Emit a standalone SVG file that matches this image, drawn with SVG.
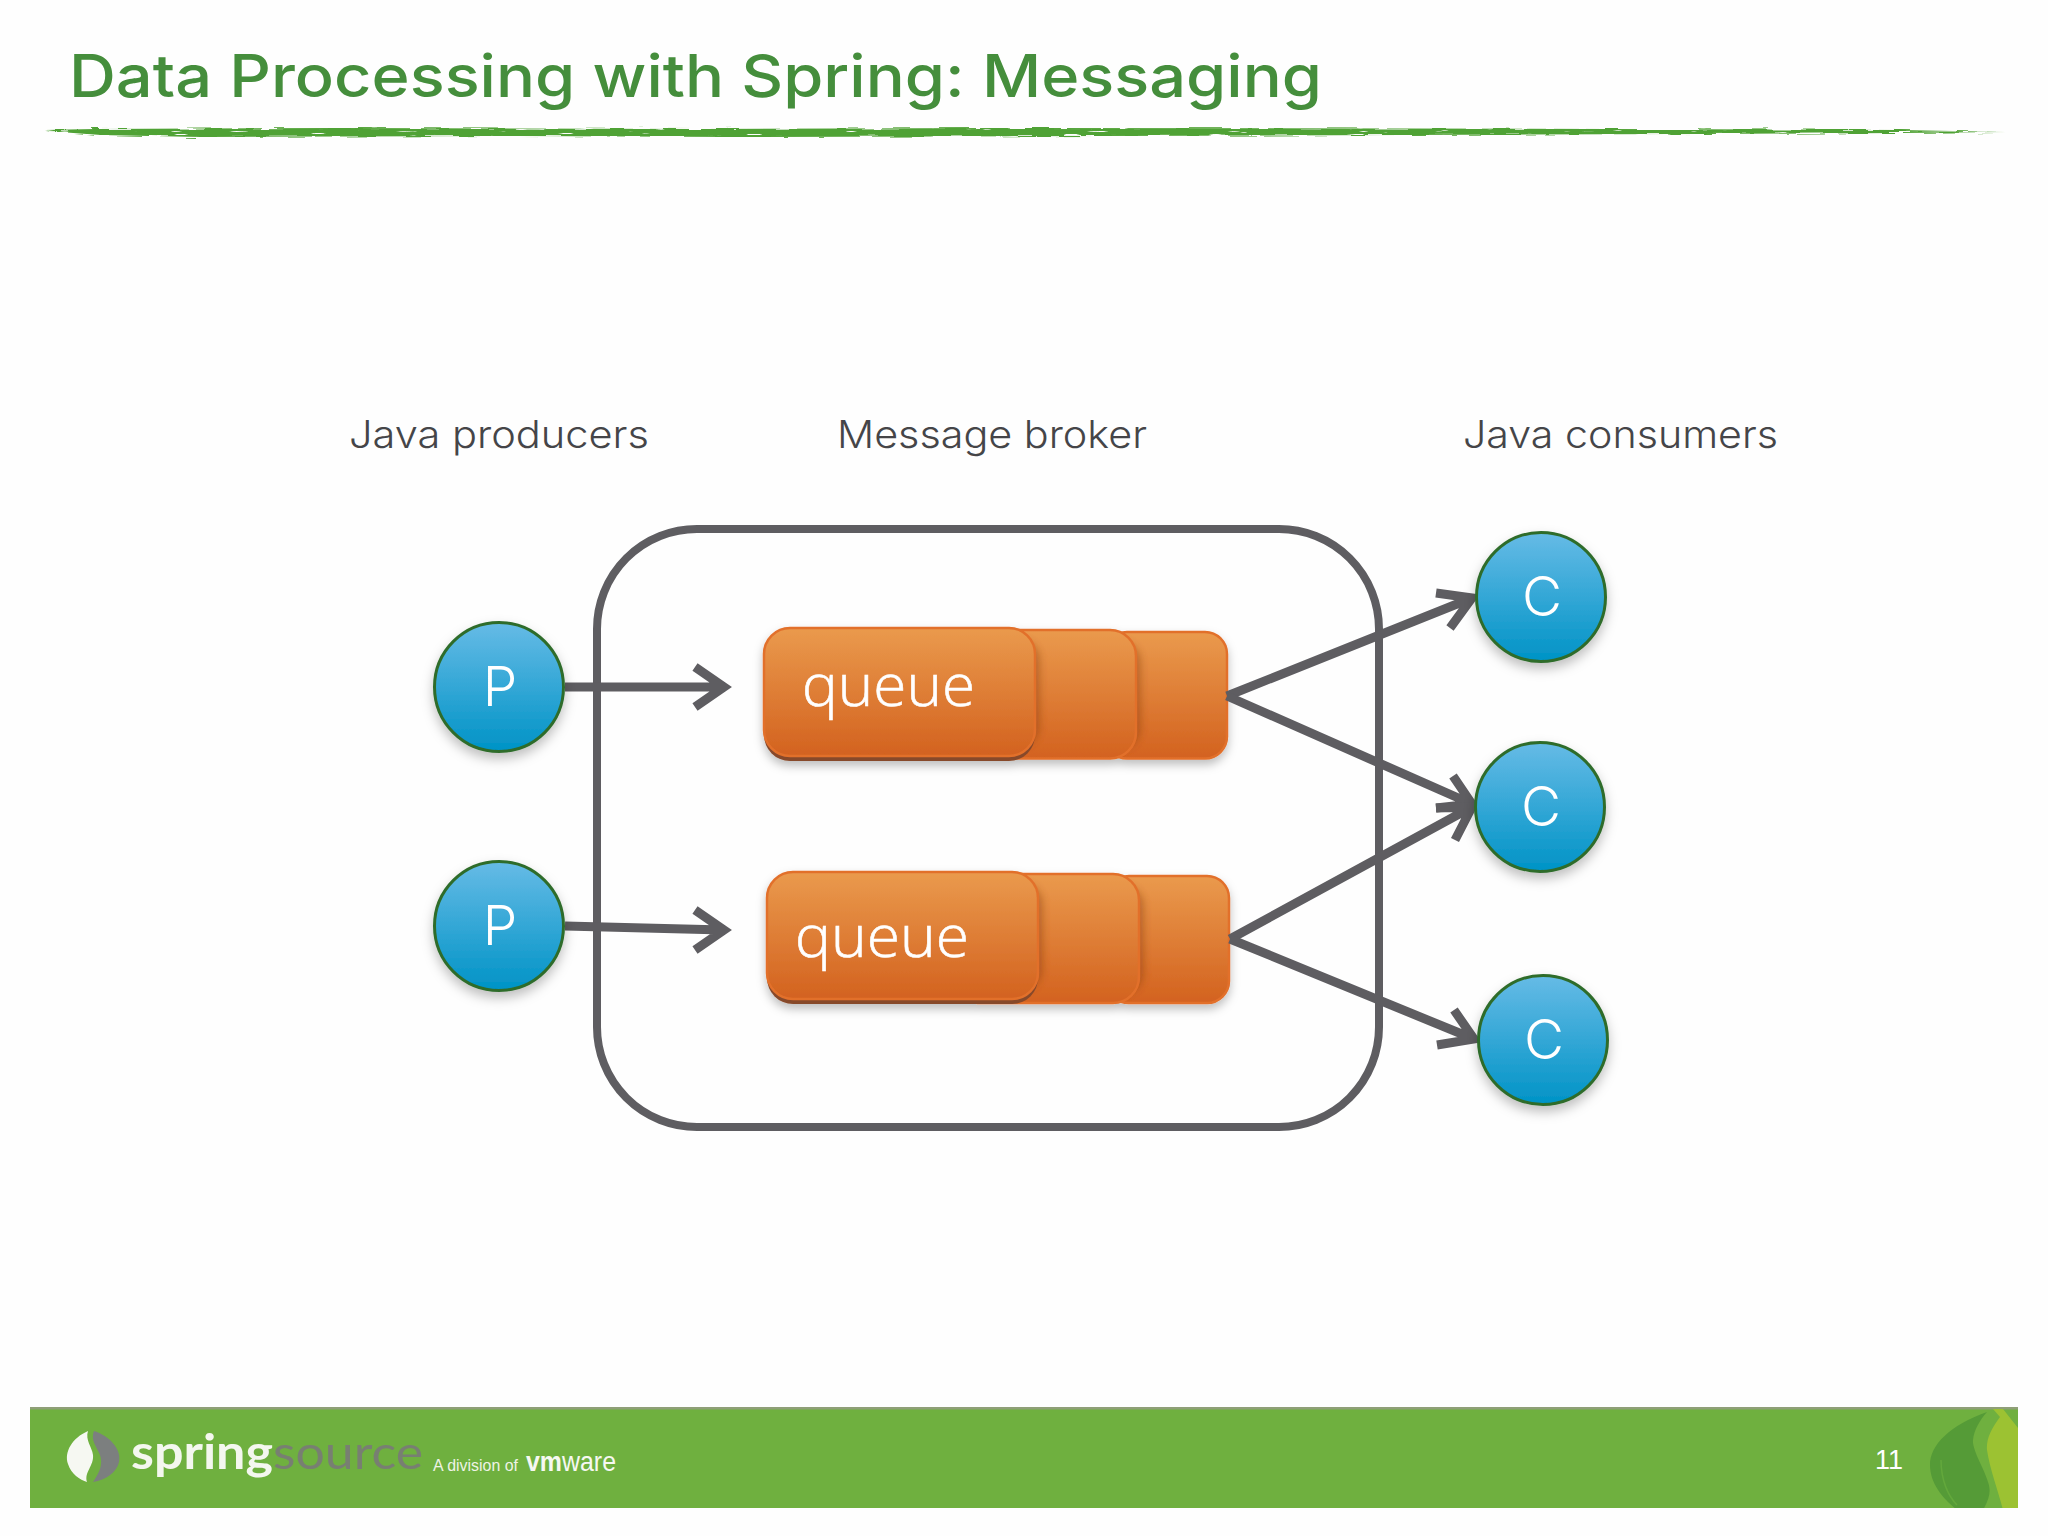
<svg xmlns="http://www.w3.org/2000/svg" width="2048" height="1536" viewBox="0 0 2048 1536">
<style>
.title{font-family:"Inter","Liberation Sans",sans-serif;font-weight:500;font-size:59px;fill:#458e3c}
.lab{font-family:"Inter","Liberation Sans",sans-serif;font-weight:300;font-size:38px;fill:#454548}
.q{font-family:"Open Sans","Liberation Sans",sans-serif;font-weight:300;font-size:59px;fill:#fff;stroke:#fff;stroke-width:0.600}
.n{font-family:"Inter","Liberation Sans",sans-serif;font-weight:300;font-size:55px;fill:#fff;text-anchor:middle}
.circ{fill:url(#blue);stroke:#2f6c2c;stroke-width:3;filter:url(#sh)}
.qb{stroke:#e2702c;stroke-width:2.500;fill:url(#org)}
.qi{fill:#7a3208;opacity:0.45;filter:url(#bl)}
.qg{filter:url(#sh2)}
.arrow{fill:none;stroke:#5e5d61;stroke-width:9;stroke-linejoin:miter}
</style>
<defs>
<linearGradient id="blue" x1="0" y1="0" x2="0" y2="1"><stop offset="0" stop-color="#66bbe6"/><stop offset="1" stop-color="#0093c6"/></linearGradient>
<linearGradient id="org" x1="0" y1="0" x2="0" y2="1"><stop offset="0" stop-color="#ea9a4d"/><stop offset="1" stop-color="#d3621f"/></linearGradient>
<filter id="sh" x="-20%" y="-20%" width="140%" height="150%"><feDropShadow dx="0" dy="6" stdDeviation="6" flood-color="#000" flood-opacity="0.25"/></filter>
<filter id="sh2" x="-10%" y="-20%" width="120%" height="150%"><feDropShadow dx="0" dy="5" stdDeviation="5" flood-color="#000" flood-opacity="0.25"/></filter>
<filter id="bl" x="-20%" y="-20%" width="140%" height="140%"><feGaussianBlur stdDeviation="4"/></filter>
<filter id="brush" filterUnits="userSpaceOnUse" x="30" y="118" width="1990" height="30">
<feTurbulence type="fractalNoise" baseFrequency="0.035 0.55" numOctaves="2" seed="7" result="n"/>
<feDisplacementMap in="SourceGraphic" in2="n" scale="5" xChannelSelector="R" yChannelSelector="G" result="d"/>
<feColorMatrix in="n" type="matrix" values="0 0 0 0 0 0 0 0 0 0 0 0 0 0 0 1.500 0 0 0 0" result="a"/>
<feComponentTransfer in="a" result="m"><feFuncA type="linear" slope="9" intercept="-3"/></feComponentTransfer>
<feComposite in="d" in2="m" operator="in"/>
</filter>
<clipPath id="bar"><rect x="30" y="1408" width="1988" height="100"/></clipPath>
</defs>
<rect width="2048" height="1536" fill="#fefefe"/>
<g id="header">
<text class="title" x="69" y="97" textLength="1253" lengthAdjust="spacingAndGlyphs">Data Processing with Spring: Messaging</text>
<path filter="url(#brush)" d="M45 130 L95 129 L340 128 L700 129 L1000 128 L1400 128.500 L1800 129.500 L1900 130 L2005 132 L1900 133 L1700 134 L1400 135 L1100 136 L735 137 L520 136 L200 137 L100 135 L60 132 Z" fill="#50a235"/>
</g>
<g id="broker"><rect x="597" y="529" width="782" height="598" rx="100" ry="100" fill="none" stroke="#5e5d61" stroke-width="8"/></g>
<g id="labels">
<text class="lab" x="349" y="448" textLength="300" lengthAdjust="spacingAndGlyphs">Java producers</text>
<text class="lab" x="837" y="448" textLength="310" lengthAdjust="spacingAndGlyphs">Message broker</text>
<text class="lab" x="1463" y="448" textLength="315" lengthAdjust="spacingAndGlyphs">Java consumers</text>
</g>
<g id="queue1">
<g class="qg">
<rect class="qb" x="1105" y="632" width="122" height="126.500" rx="22"/>
<rect class="qi" x="1020" y="642" width="120" height="106" rx="20"/>
<rect class="qb" x="950" y="630" width="186" height="128.500" rx="26"/>
<rect class="qi" x="950" y="640" width="89" height="106" rx="20"/>
<rect x="764" y="631" width="271" height="130" rx="26" fill="#87492a"/>
<rect class="qb" x="764" y="628" width="271" height="128" rx="26"/>
</g>
<text class="q" x="802" y="706" textLength="173" lengthAdjust="spacingAndGlyphs">queue</text>
</g>
<g id="queue2">
<g class="qg">
<rect class="qb" x="1107" y="876" width="122" height="127" rx="22"/>
<rect class="qi" x="1022" y="886" width="121" height="107" rx="20"/>
<rect class="qb" x="952" y="874" width="187" height="129" rx="26"/>
<rect class="qi" x="952" y="884" width="90" height="105" rx="20"/>
<rect x="767" y="875" width="271" height="129" rx="26" fill="#87492a"/>
<rect class="qb" x="767" y="872" width="271" height="127" rx="26"/>
</g>
<text class="q" x="795" y="957" textLength="174" lengthAdjust="spacingAndGlyphs">queue</text>
</g>
<g id="connectors">
<path class="arrow" d="M565 687 H724 M695 667 L724 687 L695 707"/>
<path class="arrow" d="M565 926 L724 930 M695 910 L724 930 L695 950"/>
<path class="arrow" d="M1227 696 L1472 598 M1436 593 L1472 598 L1450 628"/>
<path class="arrow" d="M1227 696 L1472 804 M1453 776 L1472 804 L1436 808"/>
<path class="arrow" d="M1230 939 L1472 807 M1436 808 L1472 807 L1455 840"/>
<path class="arrow" d="M1230 939 L1474 1039 M1454 1010 L1474 1039 L1437 1045"/>
</g>
<g id="p1"><ellipse class="circ" cx="499" cy="687" rx="64.500" ry="64.500"/><text class="n" x="500" y="706">P</text></g>
<g id="p2"><ellipse class="circ" cx="499" cy="926" rx="64.500" ry="64.500"/><text class="n" x="500" y="945">P</text></g>
<g id="c1"><ellipse class="circ" cx="1541" cy="597" rx="64.500" ry="64.500"/><text class="n" x="1542" y="616">C</text></g>
<g id="c2"><ellipse class="circ" cx="1540" cy="807" rx="64.500" ry="64.500"/><text class="n" x="1541" y="826">C</text></g>
<g id="c3"><ellipse class="circ" cx="1543" cy="1040" rx="64.500" ry="64.500"/><text class="n" x="1544" y="1059">C</text></g>
<g id="footer">
<rect x="30" y="1408" width="1988" height="100" fill="#6fb03f"/>
<rect x="30" y="1407" width="1988" height="2.500" fill="#8f9f78"/>
<g clip-path="url(#bar)">
<path d="M1987 1412 C1950 1425 1930 1445 1930 1465 C1930 1485 1945 1500 1957 1510 L1983 1510 C1990 1498 1991 1490 1988 1482 C1985 1470 1972 1450 1973 1440 C1974 1430 1980 1420 1987 1412Z" fill="#559b37"/>
<path d="M1941 1460 C1941 1480 1948 1496 1957 1505" fill="none" stroke="#63a83c" stroke-width="1.500"/>
<path d="M1993 1409 L2003 1409 L2018 1428 L2018 1510 L2003 1510 C1998 1490 1990 1470 1987 1450 C1986 1438 1992 1428 2000 1417 Z" fill="#9cc232"/>
</g>
<path d="M88 1431 C72 1438 64 1452 68 1464 C71 1474 80 1480 87 1482 C84 1472 94 1466 93 1455 C92 1447 85 1440 88 1431Z" fill="#f6f8f2"/>
<path d="M94 1431 C110 1436 122 1450 119 1462 C117 1472 106 1480 93 1482 C100 1472 103 1464 100 1455 C97 1447 90 1440 94 1431Z" fill="#7c7f7f"/>
<text x="131" y="1469" font-family="Lato,'Liberation Sans',sans-serif" font-weight="700" font-size="48" fill="#f4f7ef" textLength="142" lengthAdjust="spacingAndGlyphs">spring</text>
<text x="273" y="1469" font-family="Lato,'Liberation Sans',sans-serif" font-weight="400" font-size="47" fill="#787f72" textLength="150" lengthAdjust="spacingAndGlyphs">source</text>
<text x="433" y="1471" font-family="'Liberation Sans',sans-serif" font-size="17" fill="#eef3e6" textLength="85" lengthAdjust="spacingAndGlyphs">A division of</text>
<text x="526" y="1471" font-family="'Liberation Sans',sans-serif" font-size="27" fill="#f6f8f2" textLength="90" lengthAdjust="spacingAndGlyphs"><tspan font-weight="700">vm</tspan>ware</text>
<text x="1875" y="1469" font-family="'Liberation Sans',sans-serif" font-size="27" fill="#fff">11</text>
</g>
</svg>
